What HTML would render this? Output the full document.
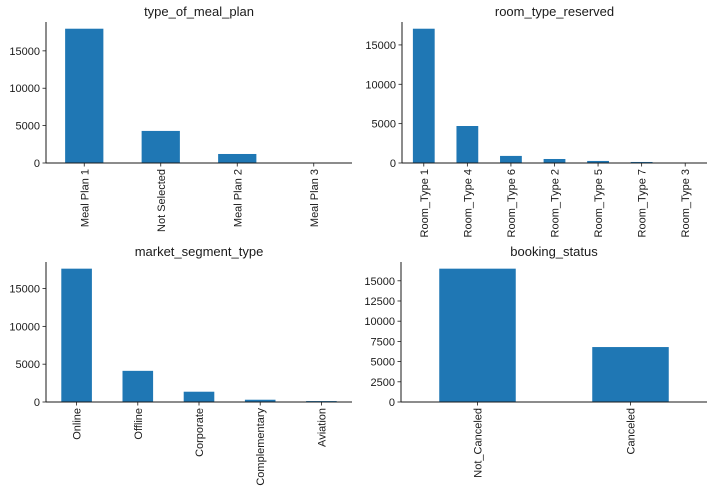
<!DOCTYPE html>
<html><head><meta charset="utf-8">
<style>
html,body{margin:0;padding:0;background:#fff;}
svg text{font-family:"Liberation Sans","DejaVu Sans",sans-serif;fill:#1a1a1a;}
</style></head>
<body>
<svg id="fig" width="712" height="496" viewBox="0 0 712 496" xmlns="http://www.w3.org/2000/svg"></svg>
<script>
const mealCategories = ["Meal Plan 1","Not Selected","Meal Plan 2","Meal Plan 3"];
const mealValues = [17960, 4290, 1206, 5];
const mealTicks = [0, 5000, 10000, 15000];

const roomCategories = ["Room_Type 1","Room_Type 4","Room_Type 6","Room_Type 2","Room_Type 5","Room_Type 7","Room_Type 3"];
const roomValues = [17060, 4700, 900, 510, 260, 130, 5];
const roomTicks = [0, 5000, 10000, 15000];

const marketCategories = ["Online","Offline","Corporate","Complementary","Aviation"];
const marketValues = [17630, 4120, 1360, 300, 125];
const marketTicks = [0, 5000, 10000, 15000];

const bookingCategories = ["Not_Canceled","Canceled"];
const bookingValues = [16500, 6800];
const bookingTicks = [0, 2500, 5000, 7500, 10000, 12500, 15000];

const NS = "http://www.w3.org/2000/svg";
const fig = document.getElementById("fig");
function mk(tag, attrs, parent){
  const e = document.createElementNS(NS, tag);
  for (const k in attrs) e.setAttribute(k, attrs[k]);
  parent.appendChild(e);
  return e;
}
function panel(name, title, cats, vals, ticks, L, R, T, B){
  const g = mk("g", {}, fig);
  
  
  const ymax = Math.max(...vals) * 1.05;
  const y = v => B - v / ymax * (B - T);
  const n = cats.length;
  const step = (R - L) / n;
  const x = i => L + step * (i + 0.5);
  cats.forEach((c, i) => {
    const r = mk("rect", {x: x(i) - step * 0.25, y: y(vals[i]), width: step * 0.5, height: B - y(vals[i]), fill: "#1f77b4"}, g);
    
    
  });
  const ya = mk("line", {x1: L, y1: T, x2: L, y2: B, stroke: "#1a1a1a", "stroke-width": 1}, g);
  
  
  const xa = mk("line", {x1: L, y1: B, x2: R, y2: B, stroke: "#1a1a1a", "stroke-width": 1}, g);
  
  
  ticks.forEach(t => {
    mk("line", {x1: L - 3.5, y1: y(t), x2: L, y2: y(t), stroke: "#1a1a1a", "stroke-width": 0.8}, g);
    const tx = mk("text", {x: L - 6, y: y(t) + 4, "text-anchor": "end", "font-size": 11}, g);
    tx.textContent = t;
    
    
  });
  cats.forEach((c, i) => {
    mk("line", {x1: x(i), y1: B, x2: x(i), y2: B + 3.5, stroke: "#1a1a1a", "stroke-width": 0.8}, g);
    const tx = mk("text", {x: 0, y: 0, "text-anchor": "end", "font-size": 11, transform: `translate(${x(i) + 4},${B + 6}) rotate(-90)`}, g);
    tx.textContent = c;
    
    
  });
  const tt = mk("text", {x: (L + R) / 2, y: T - 6, "text-anchor": "middle", "font-size": 13}, g);
  tt.textContent = title;
  
  
}
panel("meal-plan", "type_of_meal_plan", mealCategories, mealValues, mealTicks, 46, 352, 22, 163);
panel("room-type", "room_type_reserved", roomCategories, roomValues, roomTicks, 402, 707, 22, 163);
panel("market-segment", "market_segment_type", marketCategories, marketValues, marketTicks, 46, 352, 262, 402);
panel("booking-status", "booking_status", bookingCategories, bookingValues, bookingTicks, 401, 707, 262, 402);
</script>
</body></html>
